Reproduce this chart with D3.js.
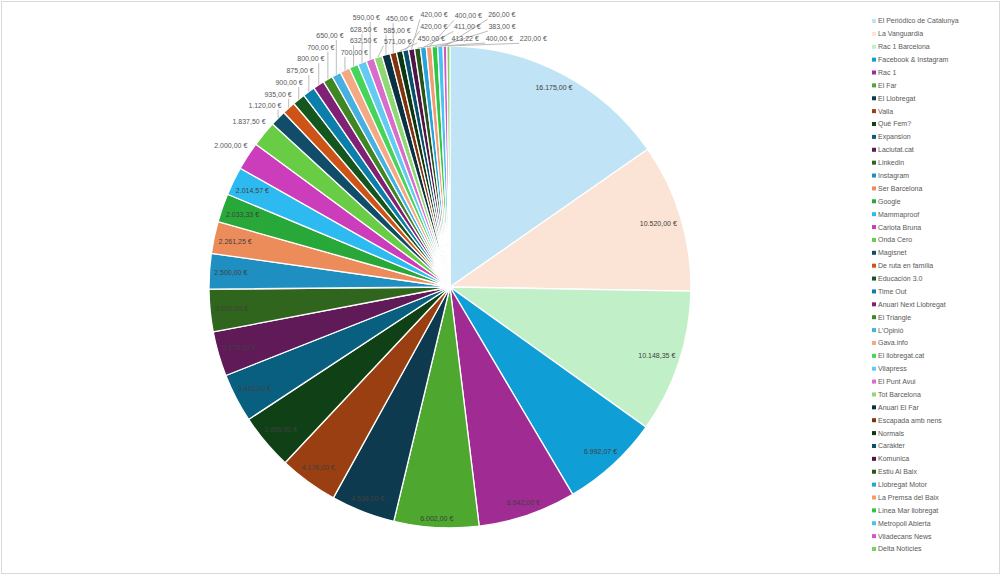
<!DOCTYPE html>
<html>
<head>
<meta charset="utf-8">
<script src="https://cdn.jsdelivr.net/npm/d3@7"></script>
<style>
  body { margin: 0; background: #fff; }
  text { font-family: "Liberation Sans Narrow", "Liberation Sans", Arial, sans-serif; }
</style>
</head>
<body>
<svg id="chart" width="1005" height="577"></svg>
<script>
// media spend per outlet (€)
var categories = [
  "El Periódico de Catalunya", "La Vanguardia", "Rac 1 Barcelona", "Facebook & Instagram",
  "Rac 1", "El Far", "El Llobregat", "Valla", "Què Fem?", "Expansion", "Laciutat.cat",
  "Linkedin", "Instagram", "Ser Barcelona", "Google", "Mammaproof", "Carlota Bruna",
  "Onda Cero", "Magisnet", "De ruta en família", "Educación 3.0", "Time Out",
  "Anuari Next Llobregat", "El Triangle", "L'Opinió", "Gava.info", "El llobregat.cat",
  "Vilapress", "El Punt Avui", "Tot Barcelona", "Anuari El Far", "Escapada amb nens",
  "Normals", "Caràkter", "Komunica", "Estiu Al Baix", "Llobregat Motor",
  "La Premsa del Baix", "Línea Mar llobregat", "Metropoli Abierta", "Viladecans News",
  "Delta Notícies"
];
var values = [
  16175, 10520, 10148.35, 6992.07, 6942, 6002, 4538, 4176, 3956, 3460, 3170,
  3000, 2500, 2261.25, 2033.33, 2014.57, 2000, 1837.5, 1120, 935, 900, 875,
  800, 700, 650, 700, 632.5, 628.5, 590, 571, 585, 450, 450, 420, 420,
  413.22, 411, 400, 400, 383, 260, 220
];
var colors = [
  "#c0e4f5", "#fbe3d6", "#c1f0c8", "#0f9ed5", "#a02b93", "#4ea72e",
  "#0d3a4e", "#9a3f11", "#0f4016", "#095f80", "#601a58", "#2f651c",
  "#1f8ec0", "#ed8c5b", "#27a838", "#2dbaf1", "#cb3dbb", "#69cc45",
  "#114d68", "#cd5316", "#14561d", "#0c7eaa", "#7f2275", "#3f8625",
  "#46b1e1", "#f2a984", "#47d45a", "#61cbf4", "#d86ecc", "#8fd974",
  "#0a3041", "#80340e", "#0d3612", "#084f6b", "#4f1549", "#275417",
  "#26a3dc", "#f09b70", "#2ec642", "#47c2f2", "#d256c4", "#7bd25c"
];
var insideCount = 16; // the big slices carry their label inside

var data = categories.map(function(c, i) {
  return { name: c, value: values[i], color: colors[i] };
});

var loc = d3.formatLocale({ decimal: ",", thousands: ".", grouping: [3], currency: ["", " €"] });
var fmt = loc.format(",.2f");
function euro(v) { return fmt(v) + " €"; }

var svg = d3.select("#chart");
svg.append("rect")
  .attr("x", 1.5).attr("y", 1.5).attr("width", 998).attr("height", 572)
  .attr("fill", "#fff").attr("stroke", "#d9d9d9");

var cx = 450, cy = 287, R = 241;
var g = svg.append("g").attr("transform", "translate(" + cx + "," + cy + ")");

var pie = d3.pie().sort(null).value(function(d) { return d.value; });
var arcs = pie(data);
var arc = d3.arc().innerRadius(0).outerRadius(R);

g.selectAll("path.slice").data(arcs).enter().append("path")
  .attr("class", "slice")
  .attr("d", arc)
  .attr("fill", function(d) { return d.data.color; })
  .attr("stroke", "#fff")
  .attr("stroke-width", 1.3)
  .attr("stroke-linejoin", "round");

// ---- labels ----
var lineG = g.append("g");
var labelG = g.append("g");
var placed = [];
var gapX = 5, gapY = 4;

function clamp(v, a, b) { return Math.max(a, Math.min(b, v)); }
function hits(b) {
  for (var k = 0; k < placed.length; k++) {
    var p = placed[k];
    if (b.x0 < p.x1 + gapX && b.x1 + gapX > p.x0 && b.y0 < p.y1 + gapY && b.y1 + gapY > p.y0) return true;
  }
  return false;
}
function clearOfPie(b, rr) {
  var nx = clamp(0, b.x0, b.x1), ny = clamp(0, b.y0, b.y1);
  return nx * nx + ny * ny >= rr * rr;
}

arcs.forEach(function(d, i) {
  var a = (d.startAngle + d.endAngle) / 2;
  var ux = Math.sin(a), uy = -Math.cos(a);
  var t = labelG.append("text")
    .attr("text-anchor", "middle")
    .attr("dy", "0.35em")
    .attr("font-size", 7)
    .attr("fill", i < insideCount ? "#404040" : "#595959")
    .text(euro(d.value));
  var w = t.node().getBBox().width + 1, h = 7;
  var ex = (ux < 0 ? -1 : 1) * w / 2, ey = (uy < 0 ? -1 : 1) * h / 2;
  var ue = ux * ex + uy * ey, ee = ex * ex + ey * ey;
  var px, py;

  if (i < insideCount) {
    var Ri = R - 4;
    var s = -ue + Math.sqrt(ue * ue - ee + Ri * Ri);
    px = s * ux; py = s * uy;
  } else {
    var Ro = R + 4;
    var s0 = ue + Math.sqrt(ue * ue - ee + Ro * Ro);
    var nx = s0 * ux, ny = s0 * uy;
    var best = null, bestCost = Infinity;
    for (var dx = -180; dx <= 180; dx++) {
      for (var dy = -180; dy <= 180; dy++) {
        var cost = dx * dx + dy * dy;
        if (cost >= bestCost) continue;
        var qx = nx + dx, qy = ny + dy;
        var b = { x0: qx - w / 2, x1: qx + w / 2, y0: qy - h / 2, y1: qy + h / 2 };
        if (b.y0 < 5 - cy || b.x0 < 10 - cx || b.x1 > 860 - cx) continue;
        if (!clearOfPie(b, R + 4) || hits(b)) continue;
        best = [qx, qy]; bestCost = cost;
      }
    }
    px = best[0]; py = best[1];
    var ax = R * ux, ay = R * uy;
    var lx = clamp(ax, px - w / 2, px + w / 2), ly = clamp(ay, py - h / 2 - 1, py + h / 2 + 1);
    if (Math.hypot(lx - ax, ly - ay) > 8) {
      lineG.append("line")
        .attr("x1", ax).attr("y1", ay).attr("x2", lx).attr("y2", ly)
        .attr("stroke", "#a6a6a6").attr("stroke-width", 0.75);
    }
  }
  placed.push({ x0: px - w / 2, x1: px + w / 2, y0: py - h / 2, y1: py + h / 2 });
  t.attr("x", px).attr("y", py);
});

// ---- legend ----
var ly = d3.scalePoint().domain(categories).range([21, 549]);
var leg = svg.append("g").selectAll("g").data(data).enter().append("g")
  .attr("transform", function(d) { return "translate(872," + ly(d.name) + ")"; });
leg.append("rect")
  .attr("x", 0).attr("y", -2).attr("width", 4).attr("height", 4)
  .attr("fill", function(d) { return d.color; });
leg.append("text")
  .attr("x", 6).attr("dy", "0.35em")
  .attr("font-size", 7).attr("fill", "#595959")
  .text(function(d) { return d.name; });
</script>
</body>
</html>
